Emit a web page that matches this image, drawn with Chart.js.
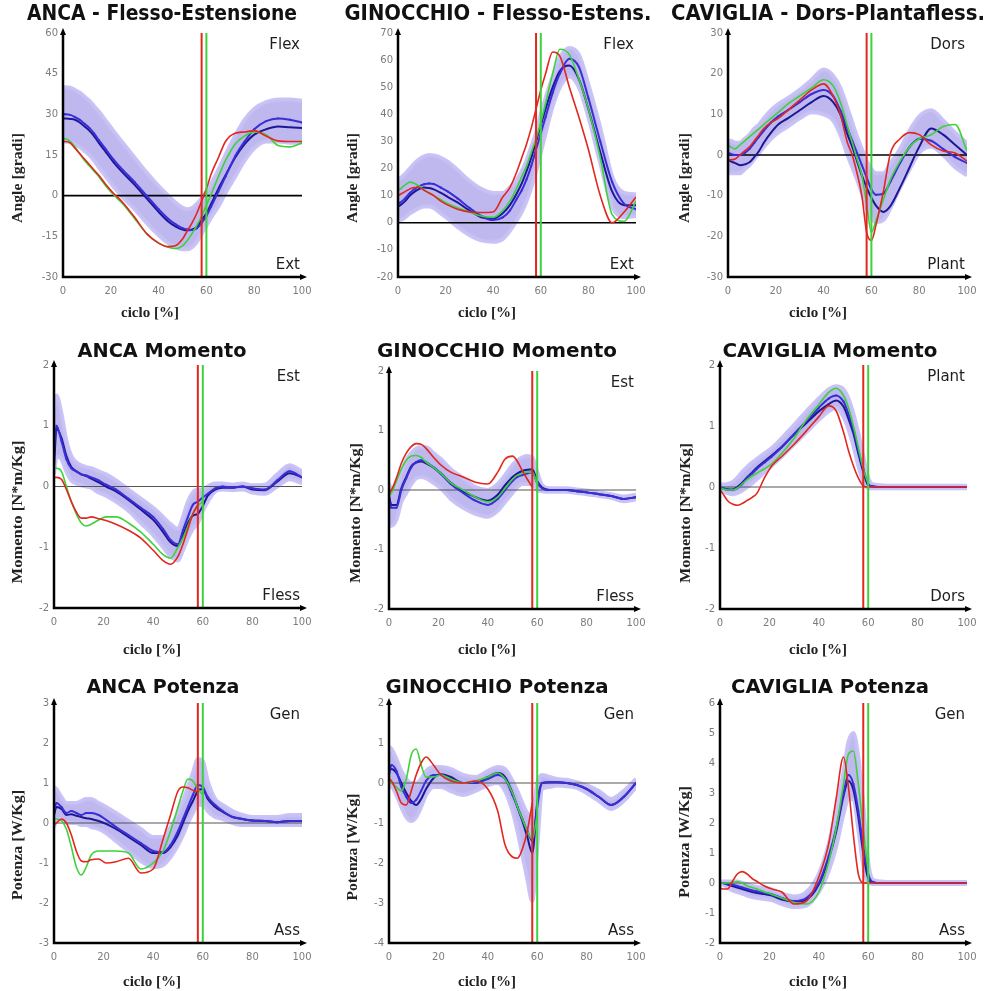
<!DOCTYPE html>
<html>
<head>
<meta charset="utf-8">
<script src="https://cdn.jsdelivr.net/npm/chart.js@4/dist/chart.umd.min.js"></script>
<style>
  body { margin: 0; background: #fff; }
  #wrap { position: relative; width: 989px; height: 991px; overflow: hidden; }
  #wrap canvas { position: absolute; }
</style>
</head>
<body>
<div id="wrap"></div>
<script>
// % of gait cycle at which every curve is sampled
const cycle = [0, 1, 3, 5, 7, 9, 11, 13, 15, 18, 21, 25, 30, 35, 40, 44, 47, 50, 52, 54, 56, 58, 60, 62, 65, 68, 72, 76, 80, 85, 90, 95, 100];
const toeOffRed = 58;
const toeOffGreen = 60;
const xTicks = [0, 20, 40, 60, 80, 100];

// ANCA - flesso-estensione [gradi]
const hipAngleHi    = [40, 40, 39.8, 39, 38, 36.5, 35, 33, 31, 27.5, 24, 19.5, 14, 8.5, 3.5, 0, -2.5, -4.5, -5, -4.5, -3, -1, 1.5, 4.5, 9.5, 15, 22, 28, 32, 34.5, 35.5, 35.5, 35];
const hipAngleLo    = [20, 20, 19.8, 19, 18, 16.5, 15, 13, 10.5, 7, 3.5, -0.5, -5, -10, -14.5, -17.5, -19, -19.8, -19.8, -19, -17, -14, -11, -8, -4, 1, 7, 13, 17.5, 20, 20, 19.5, 19.5];
const hipAngleBlueA = [30, 30, 29.8, 29, 28, 26.5, 25, 23, 20.5, 17, 13.5, 9.5, 5, 0, -5, -8.5, -10.5, -12, -12.5, -12.7, -12, -10, -7.5, -4, 1.5, 7, 14.5, 20, 24.5, 27.5, 28.5, 28, 27];
const hipAngleBlueB = [28.5, 28.5, 28.3, 28, 27, 25.5, 24, 22, 19.5, 16, 12.5, 8.5, 4, -1, -6, -9.5, -11.3, -12.5, -12.8, -12.5, -11.5, -9, -6.5, -3, 2.5, 7.5, 14, 19, 22.5, 24.5, 25.5, 25.2, 25];
const hipAngleRed   = [20, 20, 19.5, 17.5, 15.5, 13.5, 11.5, 9.5, 7.5, 4, 1, -2.5, -8, -14, -17.5, -18.8, -18.5, -16, -13, -10, -6.5, -2, 2.5, 8, 14, 20, 23, 23.5, 24, 22, 20.2, 20, 20];
const hipAngleGreen = [21, 21, 20, 18, 15.5, 13, 11, 9, 7, 3.5, 0.5, -3, -8.5, -14, -17.5, -19, -19.5, -18.5, -16.5, -14, -11, -7.5, -3.5, 0.5, 7, 13, 19, 22, 23.5, 22.5, 18.5, 18, 19.5];

// GINOCCHIO - flesso-estensione [gradi]
const kneeAngleHi    = [16, 16.5, 18, 20, 22, 23.5, 24.5, 25, 24.8, 24, 22.5, 19.5, 15.5, 12.5, 11, 11, 13, 16, 19, 23, 28, 33, 40, 46, 54, 61, 64.5, 62, 51, 35, 17, 11, 10.5];
const kneeAngleLo    = [1, 1, 2, 3.5, 4.5, 5.5, 6, 6, 5.5, 3.5, 1.5, -1.5, -4.5, -6.5, -7, -6, -3, 1, 4, 8, 13, 19, 26, 33, 43, 50, 54, 50, 39, 22, 6, 2, 2.5];
const kneeAngleBlueA = [7, 7.5, 9, 11, 12.5, 13.5, 14.2, 14.5, 14.3, 13, 11.5, 9, 5.5, 2.5, 1, 2, 4.5, 9, 12, 16, 21, 27, 33, 39, 48, 55, 60.5, 57.5, 46, 30, 15, 7, 5];
const kneeAngleBlueB = [6, 6.5, 8, 10, 11.5, 12.5, 13, 12.8, 12.3, 11, 9.5, 7.5, 4.5, 2, 1.5, 3.5, 6.5, 11, 14.5, 19, 24, 30, 36, 42, 50, 56, 58, 53, 42, 26, 11.5, 6.5, 6.5];
const kneeAngleRed   = [10, 10.5, 11.5, 12.5, 13, 13, 12, 11, 10, 8, 6.5, 5, 4, 3.8, 4, 9.5, 13, 19, 24, 29, 35, 42, 49, 55, 63, 61.5, 50, 39, 27, 10, 0, 4, 9.5];
const kneeAngleGreen = [12, 12.5, 14, 15, 14.5, 13.5, 12, 11, 10, 8.5, 7, 5.5, 4, 2.5, 2, 4.5, 8, 13, 17, 21, 26, 31, 37, 44, 55, 64, 62, 53, 42, 24, 3, 0.5, 8];

// CAVIGLIA - dorsi-plantiflessione [gradi]
const ankleAngleHi    = [3.5, 3.5, 3, 3, 4, 5, 6.5, 7.5, 9, 11, 12.5, 14, 16, 18.5, 21, 19.5, 16.5, 11.5, 8, 4.5, 1.5, -1.5, -3.5, -4.5, -4.5, -2, 1.5, 6, 9.5, 11, 8.5, 5.5, 3];
const ankleAngleLo    = [-4.5, -4.5, -4.5, -4.5, -3.5, -2.5, -1, 0.5, 2, 4, 5.5, 7, 9, 10.5, 10, 8.5, 5, 0, -3, -6, -9.5, -13, -15.5, -16.5, -16, -13, -8, -3.5, 0.5, 2, 0, -3, -5];
const ankleAngleBlueA = [0.5, 0.3, 0, 0, 0.5, 1.5, 3, 4.5, 6, 8, 9.5, 11, 13, 15, 16, 14.5, 11, 6.5, 3.5, 0.5, -2.5, -5.5, -8.5, -9.8, -9.5, -6.5, -2, 2, 4, 3.5, 1.5, -0.5, -2];
const ankleAngleBlueB = [-1, -1.5, -2, -2.5, -2.3, -1.8, -0.5, 1, 3, 5.5, 7.5, 9, 11, 13, 14.5, 13, 10, 5, 2, -1.5, -5, -8, -10.5, -12.5, -14, -12.5, -8, -3, 2, 6.5, 5, 2.5, 0];
const ankleAngleRed   = [-1, -1.2, -1, 0, 1, 2, 3.5, 5, 6.5, 8, 9, 11, 13.5, 16, 17.5, 14.5, 10, 3, 0, -4.5, -10, -19, -21, -17, -9, 0.5, 4, 5.5, 5, 2.5, 1, 0.5, -1.5];
const ankleAngleGreen = [2.5, 2, 1.5, 2.5, 3.5, 4.5, 5.5, 6.5, 7.5, 9, 10.5, 12.5, 14.5, 16.5, 18.5, 17, 13, 7, 3, -1, -5, -12, -19, -16, -11, -6, -1.5, 2, 4, 5, 7, 7.5, 1];

// ANCA momento [N*m/Kg]
const hipMomentHi    = [1.3, 1.5, 1.2, 0.75, 0.5, 0.4, 0.35, 0.32, 0.3, 0.25, 0.2, 0.1, -0.05, -0.2, -0.35, -0.5, -0.62, -0.7, -0.5, -0.25, -0.1, -0.05, -0.05, 0, 0.05, 0.05, 0.03, 0.05, 0.02, 0.03, 0.2, 0.35, 0.25];
const hipMomentLo    = [0.2, 0.5, 0.45, 0.25, 0.1, 0.05, 0.02, 0, -0.02, -0.1, -0.15, -0.25, -0.4, -0.6, -0.8, -1, -1.15, -1.22, -1.05, -0.85, -0.7, -0.6, -0.4, -0.25, -0.08, -0.05, -0.06, -0.05, -0.1, -0.12, 0, 0.12, 0.05];
const hipMomentBlueA = [0.6, 1, 0.75, 0.45, 0.3, 0.25, 0.2, 0.18, 0.15, 0.1, 0.03, -0.05, -0.2, -0.35, -0.5, -0.7, -0.88, -0.95, -0.72, -0.5, -0.3, -0.25, -0.18, -0.12, -0.03, 0, -0.02, 0, -0.03, -0.05, 0.1, 0.25, 0.15];
const hipMomentBlueB = [0.3, 0.95, 0.8, 0.5, 0.32, 0.25, 0.2, 0.17, 0.13, 0.07, 0, -0.08, -0.22, -0.38, -0.55, -0.75, -0.92, -0.98, -0.8, -0.6, -0.48, -0.45, -0.32, -0.15, -0.05, -0.02, -0.02, 0, -0.05, -0.06, 0.08, 0.22, 0.15];
const hipMomentRed   = [0.15, 0.15, 0.12, -0.05, -0.25, -0.42, -0.52, -0.52, -0.5, -0.53, -0.56, -0.62, -0.72, -0.85, -1.05, -1.22, -1.28, -1.15, -0.95, -0.7, -0.45, -0.3, null, null, null, null, null, null, null, null, null, null, null];
const hipMomentGreen = [0.3, 0.3, 0.25, 0, -0.25, -0.45, -0.6, -0.65, -0.62, -0.55, -0.5, -0.5, -0.6, -0.75, -0.95, -1.12, -1.18, -1, -0.85, -0.65, -0.45, -0.32, -0.25, null, null, null, null, null, null, null, null, null, null];

// GINOCCHIO momento [N*m/Kg]
const kneeMomentHi    = [0.1, 0, 0.05, 0.3, 0.5, 0.62, 0.7, 0.72, 0.72, 0.62, 0.52, 0.35, 0.2, 0.05, 0, 0.1, 0.25, 0.42, 0.5, 0.55, 0.57, 0.55, 0.3, 0.08, 0.03, 0.03, 0.03, 0.01, -0.01, -0.04, -0.07, -0.11, -0.08];
const kneeMomentLo    = [-0.6, -0.6, -0.5, -0.2, -0.05, 0.1, 0.2, 0.22, 0.2, 0.12, 0.03, -0.15, -0.3, -0.4, -0.45, -0.35, -0.2, -0.05, 0.05, 0.1, 0.1, 0.1, 0, -0.02, -0.03, -0.03, -0.03, -0.05, -0.07, -0.1, -0.13, -0.19, -0.16];
const kneeMomentBlueA = [-0.15, -0.3, -0.3, 0, 0.2, 0.38, 0.47, 0.5, 0.47, 0.38, 0.27, 0.1, -0.05, -0.18, -0.25, -0.15, 0, 0.15, 0.22, 0.25, 0.28, 0.3, 0.12, 0.03, 0, 0, 0, -0.02, -0.04, -0.07, -0.1, -0.15, -0.12];
const kneeMomentBlueB = [-0.1, -0.25, -0.25, 0.03, 0.22, 0.4, 0.46, 0.48, 0.45, 0.38, 0.28, 0.12, -0.02, -0.12, -0.18, -0.08, 0.08, 0.22, 0.28, 0.32, 0.34, 0.35, 0.15, 0.04, 0, 0, 0, -0.02, -0.04, -0.07, -0.1, -0.15, -0.12];
const kneeMomentRed   = [-0.05, 0, 0.2, 0.45, 0.62, 0.73, 0.78, 0.77, 0.7, 0.55, 0.42, 0.3, 0.22, 0.13, 0.1, 0.3, 0.52, 0.57, 0.48, 0.32, 0.18, 0.05, null, null, null, null, null, null, null, null, null, null, null];
const kneeMomentGreen = [-0.1, -0.05, 0.15, 0.35, 0.5, 0.57, 0.58, 0.55, 0.47, 0.38, 0.28, 0.12, 0, -0.12, -0.2, -0.12, 0.03, 0.18, 0.25, 0.28, 0.3, 0.3, 0.1, null, null, null, null, null, null, null, null, null, null];

// CAVIGLIA momento [N*m/Kg]
const ankleMomentHi    = [0.05, 0.04, 0.05, 0.08, 0.15, 0.25, 0.33, 0.4, 0.46, 0.55, 0.64, 0.8, 1.02, 1.24, 1.45, 1.6, 1.65, 1.6, 1.45, 1.2, 0.88, 0.5, 0.15, 0.04, 0.03, 0.02, 0.02, 0.02, 0.02, 0.02, 0.02, 0.02, 0.02];
const ankleMomentLo    = [-0.05, -0.07, -0.1, -0.12, -0.1, -0.06, 0, 0.06, 0.13, 0.24, 0.35, 0.5, 0.7, 0.9, 1.1, 1.24, 1.3, 1.15, 0.95, 0.68, 0.35, 0.1, -0.02, -0.02, -0.02, -0.02, -0.02, -0.02, -0.02, -0.02, -0.02, -0.02, -0.02];
const ankleMomentBlueA = [0, -0.02, -0.04, -0.05, -0.02, 0.05, 0.15, 0.22, 0.3, 0.4, 0.5, 0.65, 0.87, 1.08, 1.3, 1.45, 1.5, 1.4, 1.2, 0.95, 0.6, 0.3, 0.05, 0.01, 0, 0, 0, 0, 0, 0, 0, 0, 0];
const ankleMomentBlueB = [0, -0.02, -0.04, -0.04, 0, 0.07, 0.16, 0.24, 0.32, 0.42, 0.52, 0.66, 0.86, 1.05, 1.24, 1.36, 1.42, 1.32, 1.12, 0.88, 0.55, 0.25, 0.03, 0.01, 0, 0, 0, 0, 0, 0, 0, 0, 0];
const ankleMomentRed   = [-0.05, -0.1, -0.22, -0.28, -0.3, -0.27, -0.22, -0.17, -0.1, 0.15, 0.35, 0.5, 0.7, 0.92, 1.15, 1.33, 1.25, 0.9, 0.6, 0.35, 0.15, 0.02, 0, 0, 0, 0, 0, 0, 0, 0, 0, 0, 0];
const ankleMomentGreen = [0, -0.03, -0.05, -0.05, -0.02, 0.05, 0.12, 0.18, 0.23, 0.3, 0.38, 0.55, 0.8, 1.1, 1.35, 1.55, 1.62, 1.5, 1.3, 1, 0.65, 0.3, 0.05, null, null, null, null, null, null, null, null, null, null];

// ANCA potenza [W/Kg]
const hipPowerHi    = [0.9, 0.85, 0.65, 0.5, 0.5, 0.5, 0.55, 0.6, 0.6, 0.5, 0.4, 0.25, 0.05, -0.15, -0.35, -0.35, -0.1, 0.25, 0.55, 0.9, 1.25, 1.6, 1.55, 1.05, 0.6, 0.45, 0.3, 0.2, 0.15, 0.15, 0.15, 0.2, 0.2];
const hipPowerLo    = [-0.1, 0.1, 0.1, 0, 0, 0, -0.05, -0.05, -0.1, -0.15, -0.25, -0.45, -0.7, -0.95, -1.1, -1.05, -0.85, -0.55, -0.3, 0, 0.25, 0.45, 0.45, 0.3, 0.15, 0.1, 0, -0.05, -0.05, -0.05, -0.05, -0.05, -0.05];
const hipPowerBlueA = [0.3, 0.5, 0.4, 0.25, 0.3, 0.25, 0.2, 0.25, 0.25, 0.2, 0.08, -0.1, -0.3, -0.5, -0.7, -0.73, -0.55, -0.2, 0.1, 0.4, 0.7, 0.95, 0.9, 0.65, 0.45, 0.3, 0.15, 0.1, 0.06, 0.05, 0.02, 0.05, 0.05];
const hipPowerBlueB = [0.2, 0.4, 0.35, 0.2, 0.22, 0.18, 0.15, 0.12, 0.1, 0.05, -0.02, -0.15, -0.35, -0.55, -0.75, -0.75, -0.6, -0.3, 0, 0.3, 0.55, 0.8, 0.85, 0.6, 0.4, 0.28, 0.15, 0.1, 0.06, 0.05, 0.02, 0.05, 0.05];
const hipPowerRed   = [-0.05, 0, 0.1, 0, -0.3, -0.7, -0.95, -0.97, -0.92, -0.9, -1, -0.97, -0.88, -1.25, -1.15, -0.4, 0.2, 0.8, 0.9, 0.88, 0.82, 0.78, null, null, null, null, null, null, null, null, null, null, null];
const hipPowerGreen = [0.1, 0.1, 0.05, -0.15, -0.6, -1.1, -1.3, -1.1, -0.8, -0.7, -0.7, -0.7, -0.75, -1.15, -1, -0.7, -0.2, 0.4, 0.8, 1.1, 1.05, 0.85, 0.7, null, null, null, null, null, null, null, null, null, null];

// GINOCCHIO potenza [W/Kg]
const kneePowerHi    = [0.9, 0.85, 0.6, 0.3, 0.1, 0, 0, 0.1, 0.3, 0.4, 0.4, 0.35, 0.2, 0.15, 0.3, 0.4, 0.35, 0.05, -0.2, -0.5, -0.75, -0.8, 0, 0.2, 0.15, 0.1, 0.08, 0.02, -0.05, -0.2, -0.4, -0.2, 0.1];
const kneePowerLo    = [-0.1, -0.1, -0.3, -0.6, -0.85, -0.95, -0.85, -0.6, -0.3, -0.1, -0.1, -0.2, -0.3, -0.2, -0.05, 0, -0.2, -0.7, -1.2, -1.8, -2.4, -2.95, -1.6, -0.15, -0.1, -0.06, -0.08, -0.12, -0.25, -0.45, -0.65, -0.45, -0.1];
const kneePowerBlueA = [0.2, 0.45, 0.3, -0.1, -0.35, -0.5, -0.42, -0.2, 0.05, 0.2, 0.2, 0.1, 0, 0, 0.1, 0.2, 0.1, -0.3, -0.6, -0.9, -1.2, -1.45, -0.6, 0, 0.02, 0.02, 0, -0.05, -0.15, -0.35, -0.55, -0.35, 0];
const kneePowerBlueB = [0.3, 0.35, 0.25, 0, -0.25, -0.45, -0.55, -0.4, -0.15, 0.12, 0.22, 0.15, 0, 0, 0.15, 0.25, 0.15, -0.25, -0.6, -0.95, -1.35, -1.75, -0.5, 0, 0.02, 0.02, 0, -0.05, -0.15, -0.35, -0.55, -0.35, 0];
const kneePowerRed   = [0.1, 0.05, -0.2, -0.5, -0.55, -0.2, 0.2, 0.5, 0.65, 0.45, 0.2, 0.05, 0, 0.05, -0.15, -0.7, -1.55, -1.85, -1.88, -1.65, -1.2, -0.5, null, null, null, null, null, null, null, null, null, null, null];
const kneePowerGreen = [0.05, 0, -0.1, -0.2, 0.1, 0.7, 0.85, 0.45, 0.15, 0.15, 0.2, 0.1, 0, 0.05, 0.15, 0.25, 0.1, -0.25, -0.6, -0.9, -1.2, -1.4, -0.8, null, null, null, null, null, null, null, null, null, null];

// CAVIGLIA potenza [W/Kg]
const anklePowerHi    = [0.05, 0.05, 0.05, 0.05, 0.05, 0, -0.05, -0.1, -0.13, -0.18, -0.22, -0.35, -0.45, -0.3, 0.3, 1.3, 2.4, 3.7, 4.7, 5, 4.2, 2.6, 0.7, 0.1, 0.05, 0.03, 0.03, 0.03, 0.03, 0.03, 0.03, 0.03, 0.03];
const anklePowerLo    = [-0.05, -0.05, -0.15, -0.25, -0.3, -0.35, -0.42, -0.47, -0.5, -0.53, -0.57, -0.7, -0.8, -0.75, -0.3, 0.4, 1.2, 2.3, 2.8, 2.8, 1.8, 0.6, 0, -0.03, -0.03, -0.03, -0.03, -0.03, -0.03, -0.03, -0.03, -0.03, -0.03];
const anklePowerBlueA = [0, 0, -0.02, -0.05, -0.1, -0.15, -0.2, -0.25, -0.28, -0.33, -0.38, -0.5, -0.6, -0.5, 0, 0.9, 1.8, 3, 3.6, 3.3, 2.4, 1.2, 0.3, 0.03, 0, 0, 0, 0, 0, 0, 0, 0, 0];
const anklePowerBlueB = [0, 0, -0.05, -0.1, -0.15, -0.2, -0.25, -0.3, -0.33, -0.37, -0.42, -0.55, -0.62, -0.55, -0.05, 0.8, 1.7, 2.9, 3.4, 3.1, 2.2, 1, 0.15, 0.02, 0, 0, 0, 0, 0, 0, 0, 0, 0];
const anklePowerRed   = [-0.15, -0.2, -0.2, 0.05, 0.3, 0.38, 0.3, 0.15, 0.05, -0.1, -0.2, -0.3, -0.7, -0.6, 0.2, 1.3, 2.8, 4.2, 3.2, 1.6, 0.3, 0, 0, 0, 0, 0, 0, 0, 0, 0, 0, 0, 0];
const anklePowerGreen = [0, 0, 0, 0.02, 0.05, 0, -0.1, -0.15, -0.2, -0.3, -0.38, -0.5, -0.65, -0.7, -0.3, 0.7, 1.8, 3.3, 4.3, 4.4, 3.3, 1.8, 0.4, null, null, null, null, null, null, null, null, null, null];

const RED = '#e3261e';
const GREEN = '#3ed23a';
const BLUE_A = '#3a2fd6';
const BLUE_B = '#1d1796';
const BAND = 'rgba(150, 140, 228, 0.62)';
const FRINGE = 'rgba(198, 193, 244, 0.95)';

// box = canvas [left, top, w, h]; area = plot [left, top, right, bottom]; page coords
const panels = [
  { title: 'ANCA - Flesso-Estensione', tPos: [162, 15, 270], tSize: 21,
    box: [0, 0, 330, 330], area: [63, 33, 302, 277], y: [-30, 60, 15],
    yTitle: 'Angle [gradi]', yPos: [18, 178, 90], xPos: [150, 313, 58], top: 'Flex', bottom: 'Ext',
    hi: hipAngleHi, lo: hipAngleLo, a: hipAngleBlueA, b: hipAngleBlueB, red: hipAngleRed, green: hipAngleGreen, zero: '#000', zeroW: 1.6 },
  { title: 'GINOCCHIO - Flesso-Estens.', tPos: [498, 15, 307], tSize: 21,
    box: [330, 0, 330, 330], area: [398, 33, 636, 277], y: [-20, 70, 10],
    yTitle: 'Angle [gradi]', yPos: [353, 178, 90], xPos: [487, 313, 58], top: 'Flex', bottom: 'Ext',
    hi: kneeAngleHi, lo: kneeAngleLo, a: kneeAngleBlueA, b: kneeAngleBlueB, red: kneeAngleRed, green: kneeAngleGreen, zero: '#000', zeroW: 1.6 },
  { title: 'CAVIGLIA - Dors-Plantafless.', tPos: [828, 15, 314], tSize: 21,
    box: [660, 0, 329, 330], area: [728, 33, 967, 277], y: [-30, 30, 10],
    yTitle: 'Angle [gradi]', yPos: [685, 178, 90], xPos: [818, 313, 58], top: 'Dors', bottom: 'Plant',
    hi: ankleAngleHi, lo: ankleAngleLo, a: ankleAngleBlueA, b: ankleAngleBlueB, red: ankleAngleRed, green: ankleAngleGreen, zero: '#000', zeroW: 1.6 },
  { title: 'ANCA Momento', tPos: [162, 352, 169], tSize: 19,
    box: [0, 330, 330, 330], area: [54, 365, 302, 608], y: [-2, 2, 1],
    yTitle: 'Momento [N*m/Kg]', yPos: [18, 512, 143], xPos: [152, 650, 58], top: 'Est', bottom: 'Fless',
    hi: hipMomentHi, lo: hipMomentLo, a: hipMomentBlueA, b: hipMomentBlueB, red: hipMomentRed, green: hipMomentGreen, zero: '#555', zeroW: 1 },
  { title: 'GINOCCHIO Momento', tPos: [497, 352, 240], tSize: 19,
    box: [330, 330, 330, 330], area: [389, 371, 636, 609], y: [-2, 2, 1],
    yTitle: 'Momento [N*m/Kg]', yPos: [356, 513, 140], xPos: [487, 650, 58], top: 'Est', bottom: 'Fless',
    hi: kneeMomentHi, lo: kneeMomentLo, a: kneeMomentBlueA, b: kneeMomentBlueB, red: kneeMomentRed, green: kneeMomentGreen, zero: '#555', zeroW: 1 },
  { title: 'CAVIGLIA Momento', tPos: [830, 352, 215], tSize: 19,
    box: [660, 330, 329, 330], area: [720, 365, 967, 609], y: [-2, 2, 1],
    yTitle: 'Momento [N*m/Kg]', yPos: [686, 513, 140], xPos: [818, 650, 58], top: 'Plant', bottom: 'Dors',
    hi: ankleMomentHi, lo: ankleMomentLo, a: ankleMomentBlueA, b: ankleMomentBlueB, red: ankleMomentRed, green: ankleMomentGreen, zero: '#555', zeroW: 1 },
  { title: 'ANCA Potenza', tPos: [163, 688, 153], tSize: 19,
    box: [0, 660, 330, 331], area: [54, 703, 302, 943], y: [-3, 3, 1],
    yTitle: 'Potenza [W/Kg]', yPos: [18, 845, 110], xPos: [152, 982, 58], top: 'Gen', bottom: 'Ass',
    hi: hipPowerHi, lo: hipPowerLo, a: hipPowerBlueA, b: hipPowerBlueB, red: hipPowerRed, green: hipPowerGreen, zero: '#555', zeroW: 1 },
  { title: 'GINOCCHIO Potenza', tPos: [497, 688, 223], tSize: 19,
    box: [330, 660, 330, 331], area: [389, 703, 636, 943], y: [-4, 2, 1],
    yTitle: 'Potenza [W/Kg]', yPos: [353, 847, 107], xPos: [487, 982, 58], top: 'Gen', bottom: 'Ass',
    hi: kneePowerHi, lo: kneePowerLo, a: kneePowerBlueA, b: kneePowerBlueB, red: kneePowerRed, green: kneePowerGreen, zero: '#555', zeroW: 1 },
  { title: 'CAVIGLIA Potenza', tPos: [830, 688, 198], tSize: 19,
    box: [660, 660, 329, 331], area: [720, 703, 967, 943], y: [-2, 6, 1],
    yTitle: 'Potenza [W/Kg]', yPos: [685, 842, 112], xPos: [818, 982, 58], top: 'Gen', bottom: 'Ass',
    hi: anklePowerHi, lo: anklePowerLo, a: anklePowerBlueA, b: anklePowerBlueB, red: anklePowerRed, green: anklePowerGreen, zero: '#555', zeroW: 1 }
];

const Y_AXIS_W = 45;
const X_AXIS_H = 40;

function pts(ys) {
  return cycle.map((x, i) => ({ x: x, y: ys[i] }));
}

function curve(ys, color, width, order, extra) {
  return Object.assign({
    data: pts(ys), borderColor: color, borderWidth: width,
    pointRadius: 0, fill: false, tension: 0.4, cubicInterpolationMode: 'monotone', order: order
  }, extra || {});
}

function straight(p0, p1, color, width, order) {
  return { data: [p0, p1], borderColor: color, borderWidth: width, pointRadius: 0, fill: false, tension: 0, order: order };
}

// text squeezed/stretched to the width it has in the picture
function fitText(ctx, text, x, y, font, width, rotate) {
  ctx.save();
  ctx.font = font;
  const w = ctx.measureText(text).width;
  ctx.translate(x, y);
  if (rotate) ctx.rotate(-Math.PI / 2);
  ctx.scale(width / w, 1);
  ctx.textAlign = 'center';
  ctx.textBaseline = 'middle';
  ctx.fillText(text, 0, 0);
  ctx.restore();
}

function decor(p) {
  return {
    id: 'decor',
    afterDraw(chart) {
      const ctx = chart.ctx;
      const a = chart.chartArea;
      const ox = p.box[0], oy = p.box[1];
      ctx.save();
      // axes with arrow heads
      ctx.strokeStyle = '#000';
      ctx.lineWidth = 2.5;
      ctx.beginPath();
      ctx.moveTo(a.left, a.top);
      ctx.lineTo(a.left, a.bottom);
      ctx.lineTo(a.right, a.bottom);
      ctx.stroke();
      ctx.fillStyle = '#000';
      ctx.beginPath();
      ctx.moveTo(a.left, a.top - 5);
      ctx.lineTo(a.left - 3, a.top + 2);
      ctx.lineTo(a.left + 3, a.top + 2);
      ctx.fill();
      ctx.beginPath();
      ctx.moveTo(a.right + 5, a.bottom);
      ctx.lineTo(a.right - 2, a.bottom - 3);
      ctx.lineTo(a.right - 2, a.bottom + 3);
      ctx.fill();

      // labels in the corners
      ctx.fillStyle = '#1e1e1e';
      ctx.font = '15px "DejaVu Sans"';
      ctx.textAlign = 'right';
      ctx.textBaseline = 'middle';
      ctx.fillText(p.top, a.right - 2, a.top + 12);
      ctx.fillText(p.bottom, a.right - 2, a.bottom - 12);

      // titles
      ctx.fillStyle = '#111';
      fitText(ctx, p.title, p.tPos[0] - ox, p.tPos[1] - oy, 'bold ' + p.tSize + 'px "DejaVu Sans"', p.tPos[2], false);
      ctx.fillStyle = '#222';
      fitText(ctx, p.yTitle, p.yPos[0] - ox, p.yPos[1] - oy, 'bold 15px "Liberation Serif"', p.yPos[2], true);
      fitText(ctx, 'ciclo [%]', p.xPos[0] - ox, p.xPos[1] - oy, 'bold 15px "Liberation Serif"', p.xPos[2], false);
      ctx.restore();
    }
  };
}

const wrap = document.getElementById('wrap');

panels.forEach(function (p) {
  const cv = document.createElement('canvas');
  cv.width = p.box[2];
  cv.height = p.box[3];
  cv.style.left = p.box[0] + 'px';
  cv.style.top = p.box[1] + 'px';
  cv.style.width = p.box[2] + 'px';
  cv.style.height = p.box[3] + 'px';
  wrap.appendChild(cv);

  const yMin = p.y[0], yMax = p.y[1];
  const datasets = [
    curve(p.hi, FRINGE, 4, 10, { fill: '+1', backgroundColor: BAND }),
    curve(p.lo, FRINGE, 4, 9),
    straight({ x: 0, y: 0 }, { x: 100, y: 0 }, p.zero, p.zeroW, 8),
    curve(p.b, BLUE_B, 2, 7),
    curve(p.a, BLUE_A, 2, 6, { pointRadius: 1.3, pointStyle: 'rect', pointBackgroundColor: BLUE_A, pointBorderWidth: 0 }),
    curve(p.green, GREEN, 1.6, 5),
    curve(p.red, RED, 1.6, 4),
    straight({ x: toeOffRed, y: yMin }, { x: toeOffRed, y: yMax }, RED, 2, 2),
    straight({ x: toeOffGreen, y: yMin }, { x: toeOffGreen, y: yMax }, GREEN, 2, 1)
  ];

  const tickFont = { family: 'DejaVu Sans', size: 10 };

  new Chart(cv.getContext('2d'), {
    type: 'line',
    data: { datasets: datasets },
    options: {
      responsive: false,
      animation: false,
      devicePixelRatio: 1,
      layout: {
        padding: {
          left: p.area[0] - p.box[0] - Y_AXIS_W,
          top: p.area[1] - p.box[1],
          right: p.box[0] + p.box[2] - p.area[2],
          bottom: p.box[1] + p.box[3] - p.area[3] - X_AXIS_H
        }
      },
      plugins: { legend: { display: false }, tooltip: { enabled: false } },
      scales: {
        x: {
          type: 'linear', min: 0, max: 100,
          grid: { display: false, drawTicks: false },
          border: { display: false },
          afterBuildTicks: function (s) { s.ticks = xTicks.map(v => ({ value: v })); },
          ticks: { padding: 8, color: '#7c7c7c', font: tickFont, maxRotation: 0, autoSkip: false },
          afterFit: function (s) { s.height = X_AXIS_H; }
        },
        y: {
          type: 'linear', min: yMin, max: yMax,
          grid: { display: false, drawTicks: false },
          border: { display: false },
          ticks: { stepSize: p.y[2], padding: 5, color: '#7c7c7c', font: tickFont },
          afterFit: function (s) { s.width = Y_AXIS_W; }
        }
      }
    },
    plugins: [decor(p)]
  });
});
</script>
</body>
</html>
